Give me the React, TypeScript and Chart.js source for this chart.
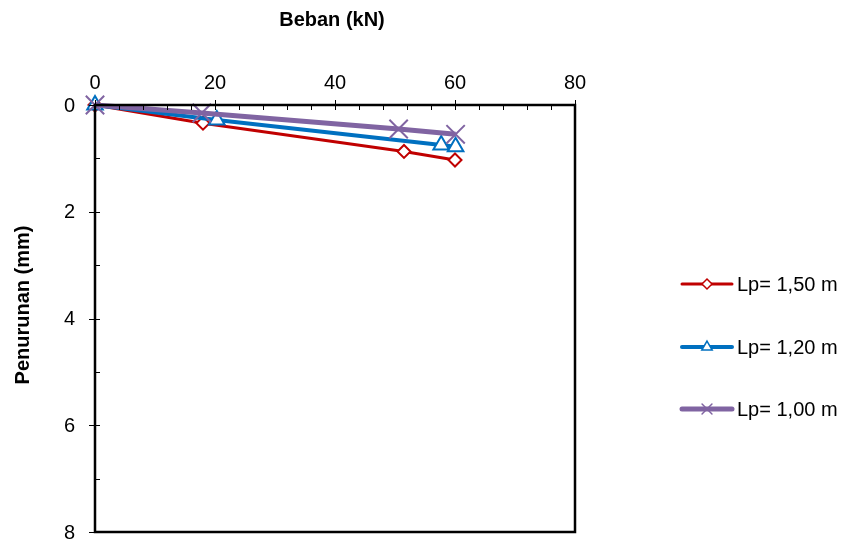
import React, { useEffect, useRef } from "react";
import { Chart, registerables } from "chart.js";
import { drawPoint } from "chart.js/helpers";

Chart.register(...registerables);

// Load (kN) and settlement (mm) readings for each pile length
const loadLp150 = [0, 18, 51.5, 60];
const settleLp150 = [0, 0.34, 0.87, 1.03];

const loadLp120 = [0, 20.3, 57.7, 60.1];
const settleLp120 = [0, 0.28, 0.75, 0.78];

const loadLp100 = [0, 17.8, 50.6, 60.1];
const settleLp100 = [0, 0.15, 0.45, 0.55];

const seriesLabels = ["Lp= 1,50 m", "Lp= 1,20 m", "Lp= 1,00 m"];
const xTitle = "Beban (kN)";
const yTitle = "Penurunan (mm)";
const yTickValues = [0, 2, 4, 6, 8];

const FONT = "'Liberation Sans', Arial, sans-serif";

const pairs = (xs: number[], ys: number[]) => xs.map((x, i) => ({ x, y: ys[i] }));

const styles = [
  { color: "#C00000", width: 3, pointStyle: "rectRot", radius: 6.5, pointBorder: 2, legendRadius: 5 },
  { color: "#0070C0", width: 4, pointStyle: "triangle", radius: 9, pointBorder: 2, legendRadius: 6 },
  { color: "#8064A2", width: 5, pointStyle: "crossRot", radius: 13, pointBorder: 2, legendRadius: 7 },
];

// Frame, tick marks, y tick labels, axis titles and the line-style legend
const decorations = {
  id: "decorations",
  afterDraw(chart: any) {
    const { ctx, chartArea } = chart;
    const xs = chart.scales.x;
    const ys = chart.scales.y;
    const { left, right, top, bottom } = chartArea;
    ctx.save();
    ctx.strokeStyle = "#000";
    ctx.lineWidth = 1;
    // x ticks along the top edge: minor every 4, major every 20
    for (let v = 0; v <= 80; v += 4) {
      const px = Math.round(xs.getPixelForValue(v)) + 0.5;
      const major = v % 20 === 0;
      ctx.beginPath();
      ctx.moveTo(px, major ? top - 5 : top);
      ctx.lineTo(px, top + 5);
      ctx.stroke();
    }
    // y ticks along the left edge: minor every 1, major every 2
    for (let v = 0; v <= 8; v += 1) {
      const py = Math.round(ys.getPixelForValue(v)) + 0.5;
      const major = v % 2 === 0;
      ctx.beginPath();
      ctx.moveTo(major ? left - 6 : left, py);
      ctx.lineTo(left + 5, py);
      ctx.stroke();
    }
    // plot frame
    ctx.lineWidth = 2.5;
    ctx.strokeRect(left, top, right - left, bottom - top);

    // y tick labels
    ctx.fillStyle = "#000";
    ctx.font = `20px ${FONT}`;
    ctx.textAlign = "right";
    ctx.textBaseline = "middle";
    yTickValues.forEach((v) => {
      ctx.fillText(String(v), left - 20, ys.getPixelForValue(v) + 1);
    });

    // axis titles
    ctx.font = `bold 20px ${FONT}`;
    ctx.textAlign = "center";
    ctx.fillText(xTitle, (left + right) / 2 - 3, 20);
    ctx.save();
    ctx.translate(23, 305);
    ctx.rotate(-Math.PI / 2);
    ctx.fillText(yTitle, 0, 0);
    ctx.restore();

    // legend
    const legendY = [284, 347, 409];
    chart.data.datasets.forEach((ds: any, i: number) => {
      const st = styles[i];
      const y = legendY[i];
      ctx.strokeStyle = st.color;
      ctx.lineWidth = st.width;
      ctx.lineCap = "round";
      ctx.beginPath();
      ctx.moveTo(682, y);
      ctx.lineTo(732, y);
      ctx.stroke();
      ctx.fillStyle = "#fff";
      ctx.lineWidth = 1.5;
      drawPoint(ctx, { pointStyle: st.pointStyle as any, radius: st.legendRadius, rotation: 0, borderWidth: 1.5 }, 707, y);
      ctx.fillStyle = "#000";
      ctx.font = `20px ${FONT}`;
      ctx.textAlign = "left";
      ctx.textBaseline = "middle";
      ctx.fillText(ds.label, 737, y + 1);
    });
    ctx.restore();
  },
};

export default function App() {
  const ref = useRef<HTMLCanvasElement>(null);

  useEffect(() => {
    if (!ref.current) return;
    const series = [
      pairs(loadLp150, settleLp150),
      pairs(loadLp120, settleLp120),
      pairs(loadLp100, settleLp100),
    ];
    const chart = new Chart(ref.current, {
      type: "line",
      data: {
        datasets: series.map((data, i) => ({
          label: seriesLabels[i],
          data,
          borderColor: styles[i].color,
          borderWidth: styles[i].width,
          backgroundColor: "#ffffff",
          pointStyle: styles[i].pointStyle as any,
          pointRadius: styles[i].radius,
          pointBorderWidth: styles[i].pointBorder,
          pointBorderColor: styles[i].color,
          pointBackgroundColor: "#ffffff",
          tension: 0,
          fill: false,
          clip: false,
          order: 3 - i,
        })),
      },
      options: {
        responsive: false,
        animation: false,
        layout: { autoPadding: false, padding: { left: 0, top: 0, right: 272, bottom: 8 } },
        plugins: { legend: { display: false }, tooltip: { enabled: false } },
        scales: {
          x: {
            type: "linear",
            position: "top",
            min: 0,
            max: 80,
            grid: { display: false, drawTicks: false },
            border: { display: false },
            ticks: { stepSize: 20, padding: 10, color: "#000", font: { size: 20, family: FONT } },
            afterFit: (s: any) => { s.height = 105; },
          },
          y: {
            type: "linear",
            reverse: true,
            min: 0,
            max: 8,
            grid: { display: false, drawTicks: false },
            border: { display: false },
            ticks: { display: false, stepSize: 1 },
            afterFit: (s: any) => { s.width = 95; },
          },
        },
      },
      plugins: [decorations],
    });
    return () => chart.destroy();
  }, []);

  return (
    <div style={{ position: "fixed", left: 0, top: 0, width: 847, height: 540, background: "#fff" }}>
      <canvas ref={ref} width={847} height={540} />
    </div>
  );
}
